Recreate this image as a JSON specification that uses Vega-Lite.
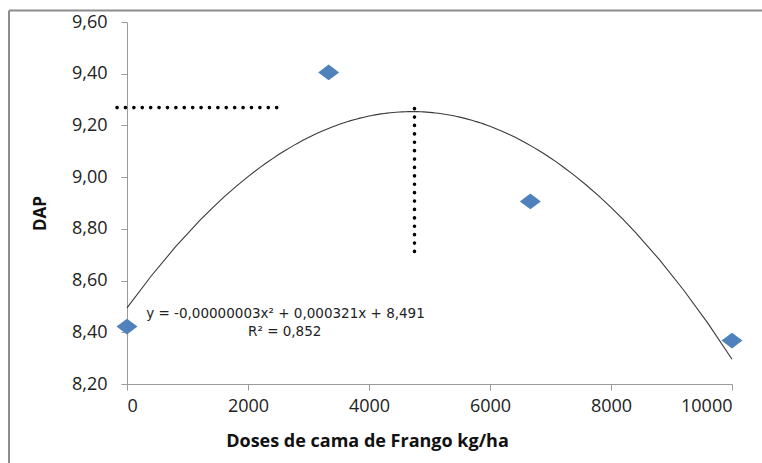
{
  "$schema": "https://vega.github.io/schema/vega-lite/v6.json",
  "width": 605,
  "height": 362,
  "autosize": {"type": "none"},
  "padding": {"left": 127, "top": 22, "right": 30, "bottom": 79},
  "background": "white",
  "config": {
    "view": {"stroke": null},
    "locale": {"number": {"decimal": ",", "thousands": ".", "grouping": [3], "currency": ["", ""]}},
    "font": "Open Sans"
  },
  "datasets": {
    "pts": [
      {"dose": 0, "dap": 8.422},
      {"dose": 3333, "dap": 9.405},
      {"dose": 6667, "dap": 8.906},
      {"dose": 10000, "dap": 8.368}
    ],
    "guides": [
      {"x": -165, "x2": 2475, "y": 9.269, "y2": 9.269},
      {"x": 4752, "x2": 4752, "y": 9.265, "y2": 8.689}
    ],
    "frame": [
      {"x": -1950, "x2": 10600, "y": 9.6445, "y2": 9.6445},
      {"x": -1950, "x2": -1950, "y": 9.6445, "y2": 7.85}
    ],
    "labels": [
      {"x": 2620, "y": 8.470, "t": "y = -0,00000003x² + 0,000321x + 8,491"},
      {"x": 2607, "y": 8.403, "t": "R² = 0,852"}
    ]
  },
  "layer": [
    {
      "data": {"name": "pts"},
      "transform": [{"regression": "dap", "on": "dose", "method": "poly", "order": 2, "extent": [0, 10000]}],
      "mark": {"type": "line", "color": "#3a3a3a", "strokeWidth": 1.1},
      "encoding": {
        "x": {"field": "dose", "type": "quantitative", "scale": {"domain": [0, 10000], "nice": false},
          "axis": {"values": [0, 2000, 4000, 6000, 8000, 10000], "format": "d", "grid": false,
            "domainColor": "#9a9a9a", "tickColor": "#9a9a9a", "tickSize": 6, "labelFontSize": 18, "labelColor": "#222",
            "labelPadding": 7, "title": "Doses de cama de Frango kg/ha", "titleFontSize": 18, "titleFontWeight": "bold",
            "titleColor": "#111", "titleX": 240, "titleY": 62, "titleAlign": "center", "titleBaseline": "alphabetic"}},
        "y": {"field": "dap", "type": "quantitative", "scale": {"domain": [8.2, 9.6], "nice": false, "zero": false},
          "axis": {"values": [8.2, 8.4, 8.6, 8.8, 9.0, 9.2, 9.4, 9.6], "format": ".2f", "grid": false,
            "domainColor": "#9a9a9a", "tickColor": "#9a9a9a", "tickSize": 6, "labelFontSize": 18, "labelColor": "#222",
            "labelPadding": 14, "title": "DAP", "titleFontSize": 17, "titleFontWeight": "bold", "titleColor": "#111",
            "titleX": -87, "titleY": 191, "titleAngle": 270, "titleAlign": "center", "titleBaseline": "middle"}}
      }
    },
    {
      "data": {"name": "frame"},
      "mark": {"type": "rule", "color": "#8c8c8c", "strokeWidth": 2},
      "encoding": {
        "x": {"field": "x", "type": "quantitative"},
        "x2": {"field": "x2"},
        "y": {"field": "y", "type": "quantitative"},
        "y2": {"field": "y2"}
      }
    },
    {
      "data": {"name": "pts"},
      "mark": {"type": "point", "shape": "M-1,0L0,-0.75L1,0L0,0.75Z", "filled": true, "opacity": 1, "color": "#4F81BD", "size": 440},
      "encoding": {
        "x": {"field": "dose", "type": "quantitative"},
        "y": {"field": "dap", "type": "quantitative"}
      }
    },
    {
      "data": {"name": "guides"},
      "mark": {"type": "rule", "color": "#000", "strokeWidth": 3.6, "strokeCap": "round", "strokeDash": [0.1, 8.3]},
      "encoding": {
        "x": {"field": "x", "type": "quantitative"},
        "x2": {"field": "x2"},
        "y": {"field": "y", "type": "quantitative"},
        "y2": {"field": "y2"}
      }
    },
    {
      "data": {"name": "labels"},
      "mark": {"type": "text", "font": "DejaVu Sans", "fontSize": 13.5, "color": "#222", "align": "center", "baseline": "middle"},
      "encoding": {
        "x": {"field": "x", "type": "quantitative"},
        "y": {"field": "y", "type": "quantitative"},
        "text": {"field": "t"}
      }
    }
  ]
}
